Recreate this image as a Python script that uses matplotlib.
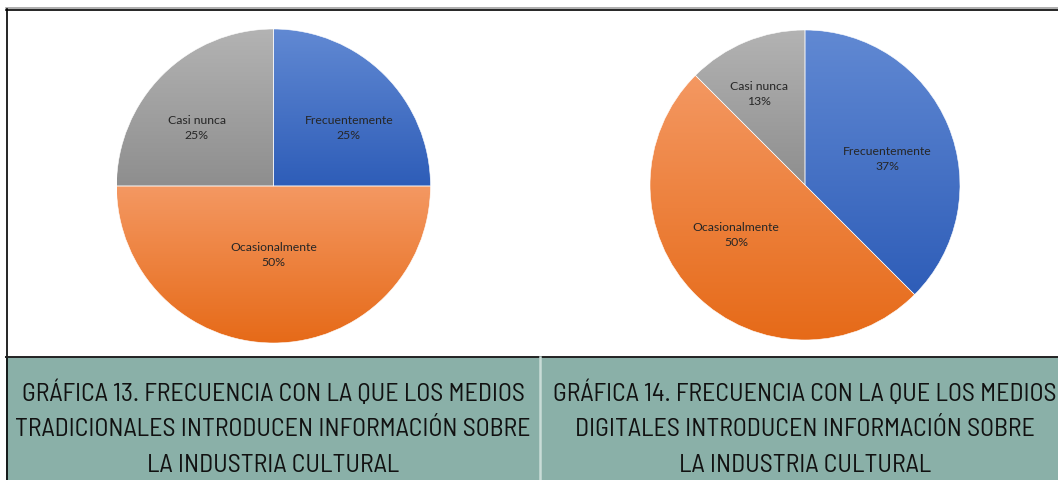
import matplotlib
matplotlib.use("Agg")
import matplotlib.pyplot as plt
import numpy as np
from matplotlib.colors import LinearSegmentedColormap
from matplotlib.patches import Rectangle

# Chart data
categories = ["Frecuentemente", "Ocasionalmente", "Casi nunca"]
trad_values = [25, 50, 25]
trad_pct = ["25%", "50%", "25%"]
dig_values = [37.5, 50, 12.5]
dig_pct = ["37%", "50%", "13%"]

caption_13 = ["GRÁFICA 13. FRECUENCIA CON LA QUE LOS MEDIOS",
              "TRADICIONALES INTRODUCEN INFORMACIÓN SOBRE",
              "LA INDUSTRIA CULTURAL"]
caption_14 = ["GRÁFICA 14. FRECUENCIA CON LA QUE LOS MEDIOS",
              "DIGITALES INTRODUCEN INFORMACIÓN SOBRE",
              "LA INDUSTRIA CULTURAL"]

# (top, bottom) gradient colours per slice
GRADS = [("#6189d3", "#2e5db8"),
         ("#f49862", "#e66a18"),
         ("#b3b3b3", "#8e8e8e")]
BAND = "#8ab0a8"
W, H = 1058, 480

fig = plt.figure(figsize=(W / 100, H / 100), dpi=100)

# background axes in pixel coordinates for frame and caption band
bg = fig.add_axes([0, 0, 1, 1])
bg.set_xlim(0, W)
bg.set_ylim(H, 0)
bg.axis("off")
bg.add_patch(Rectangle((6, 357), W, H - 357, facecolor=BAND, edgecolor="none"))
bg.plot([6, W], [8, 8], color="#a0a0a0", lw=1.2)
bg.plot([6, W], [9.5, 9.5], color="black", lw=1.2)
bg.plot([6.5, 6.5], [9, H], color="black", lw=1.2)
bg.plot([6, W], [356.5, 356.5], color="#222222", lw=1.4)
bg.plot([540, 540], [357, H], color="#c9dcd7", lw=1.8)


# label offsets (in radius units) roughly where Excel puts them
def draw_pie(cx, cy, r, values, pcts, label_xy):
    ax = fig.add_axes([(cx - r) / W, (H - cy - r) / H, 2 * r / W, 2 * r / H])
    ax.axis("off")
    wedges, _ = ax.pie(values, startangle=90, counterclock=False, radius=1,
                       colors=["none"] * len(values),
                       wedgeprops=dict(edgecolor="white", linewidth=0.4))
    for i, w in enumerate(wedges):
        # vertical gradient over each slice's own extent
        t = np.linspace(np.radians(w.theta1), np.radians(w.theta2), 200)
        ys = np.concatenate([np.sin(t), [0]])
        y0, y1 = ys.min(), ys.max()
        cmap = LinearSegmentedColormap.from_list("g", [GRADS[i][1], GRADS[i][0]])
        grad = np.linspace(0, 1, 256).reshape(-1, 1)
        im = ax.imshow(grad, cmap=cmap, origin="lower", aspect="auto",
                       extent=[-1, 1, y0, y1], zorder=1)
        im.set_clip_path(w)
        w.set_zorder(2)
        lx, ly = label_xy[i]
        ax.text(lx, ly, f"{categories[i]}\n{pcts[i]}", ha="center", va="center",
                fontsize=8.8, family="Lato", color="#262626",
                linespacing=1.45, zorder=3)
    ax.set_xlim(-1, 1)
    ax.set_ylim(-1, 1)


draw_pie(273.5, 186, 157, trad_values, trad_pct,
         [(0.48, 0.37), (0.0, -0.44), (-0.49, 0.37)])
draw_pie(805, 185, 155, dig_values, dig_pct,
         [(0.53, 0.165), (-0.445, -0.32), (-0.30, 0.59)])

# captions
for cx, lines in [(273, caption_13), (805, caption_14)]:
    for k, line in enumerate(lines):
        bg.text(cx, 393 + 36.5 * k, line, ha="center", va="center",
                fontsize=18.7, color="#111111", family="Barlow Semi Condensed")

fig.savefig("out.png", dpi=100, facecolor="white")
